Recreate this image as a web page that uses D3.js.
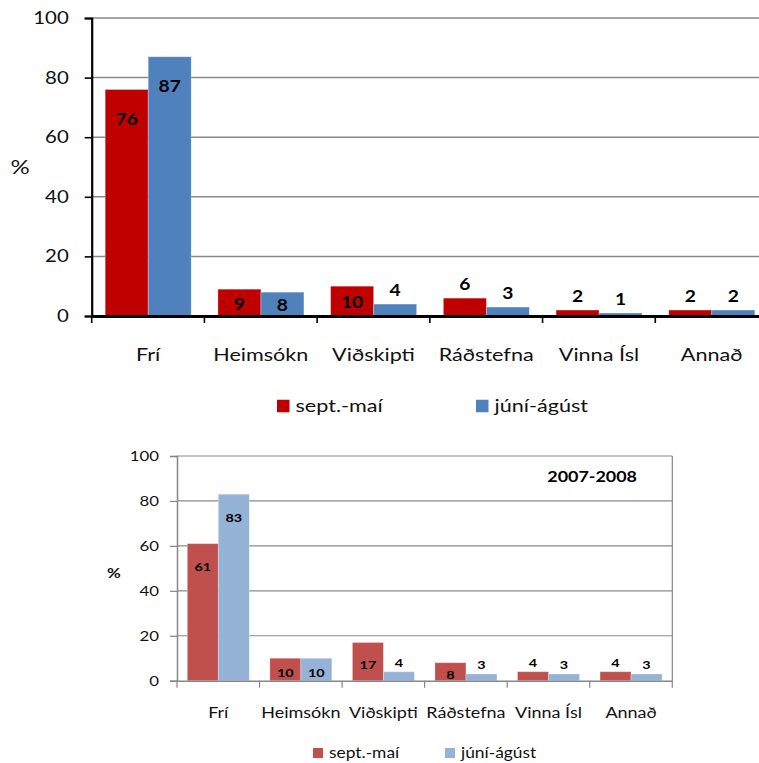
<!DOCTYPE html>
<html><head><meta charset="utf-8">
<script src="https://cdn.jsdelivr.net/npm/d3@7"></script>
<style>
html,body{margin:0;padding:0;background:#fff;}
svg{display:block;font-family:Lato, "Open Sans", sans-serif;}
</style></head>
<body>
<svg id="c" width="759" height="763"></svg>
<script>
const categories = ["Frí","Heimsókn","Viðskipti","Ráðstefna","Vinna Ísl","Annað"];
const seriesNames = ["sept.-maí","júní-ágúst"];
const topSeptMai = [76, 9, 10, 6, 2, 2];
const topJuniAgust = [87, 8, 4, 3, 1, 2];
const bottomSeptMai = [61, 10, 17, 8, 4, 4];
const bottomJuniAgust = [83, 10, 4, 3, 3, 3];
const yTicks = [0, 20, 40, 60, 80, 100];
const bottomTitle = "2007-2008";

const svg = d3.select("#c");
const K = 1.2; // horizontal stretch of the original picture's text
const REG = 400;

function wide(sel, k) {
  sel.each(function () {
    const t = d3.select(this);
    const x = +t.attr("x") || 0;
    t.attr("transform", `translate(${x * (1 - k)},0) scale(${k},1)`);
  });
}

function drawChart(cfg) {
  const g = svg.append("g");
  const y = d3.scaleLinear().domain([0, 100]).range([cfg.y0, cfg.y100]);
  const x0 = d3.scaleBand().domain(categories).range([cfg.xl, cfg.xr]);
  const x1 = d3.scaleBand().domain(seriesNames).range(cfg.inner);
  const data = categories.map((c, i) => ({cat: c, vals: [cfg.s1[i], cfg.s2[i]]}));

  // gridlines
  g.append("g").selectAll("line").data(yTicks.filter(d => d > 0)).join("line")
    .attr("x1", cfg.xl).attr("x2", cfg.gridRight)
    .attr("y1", d => y(d)).attr("y2", d => y(d))
    .attr("stroke", cfg.gridColor).attr("stroke-width", cfg.gridW);

  // bars
  const cg = g.append("g").selectAll("g").data(data).join("g")
    .attr("transform", d => `translate(${x0(d.cat)},0)`);
  cg.selectAll("rect").data(d => d.vals.map((v, j) => ({v, s: seriesNames[j], j}))).join("rect")
    .attr("x", d => x1(d.s)).attr("width", x1.bandwidth())
    .attr("y", d => y(d.v)).attr("height", d => y(0) - y(d.v))
    .attr("fill", d => cfg.colors[d.j])
    .attr("stroke", "rgba(255,255,255,0.35)").attr("stroke-width", 0.8);
  const lbl = cg.selectAll("text").data(d => d.vals.map((v, j) => ({v, s: seriesNames[j], j}))).join("text")
    .attr("x", d => x1(d.s) + x1.bandwidth() / 2)
    .attr("y", d => cfg.labelY(d.v, y))
    .attr("dy", "0.36em")
    .attr("text-anchor", "middle")
    .attr("font-weight", "bold")
    .attr("font-size", cfg.labelSize)
    .attr("fill", "#000")
    .text(d => d.v);
  wide(lbl, cfg.labelK);

  // y axis
  const ya = g.append("g").attr("transform", `translate(${cfg.xl},0)`)
    .call(d3.axisLeft(y).tickValues(yTicks).tickSize(cfg.tickLen).tickPadding(cfg.tickPad));
  ya.select(".domain").attr("stroke", cfg.axisColor).attr("stroke-width", cfg.yAxisW);
  ya.selectAll(".tick line").attr("stroke", cfg.axisColor).attr("stroke-width", cfg.tickW);
  ya.selectAll(".tick text").attr("font-size", cfg.tickSize).attr("font-family", "Lato")
    .attr("font-weight", REG).attr("fill", "#111");
  wide(ya.selectAll(".tick text"), K);

  // x axis
  const xa = g.append("g").attr("transform", `translate(0,${cfg.y0})`)
    .call(d3.axisBottom(x0).tickSize(0).tickPadding(cfg.catPad));
  xa.select(".domain").attr("stroke", cfg.axisColor).attr("stroke-width", cfg.xAxisW);
  xa.selectAll(".tick text").attr("font-size", cfg.catSize).attr("font-family", "Lato")
    .attr("font-weight", REG).attr("fill", "#111");
  wide(xa.selectAll(".tick text"), K);
  // category boundary ticks
  const bounds = categories.map(c => x0(c)).concat([cfg.xr]);
  xa.append("g").selectAll("line").data(bounds).join("line")
    .attr("x1", d => d).attr("x2", d => d).attr("y1", 0).attr("y2", cfg.tickLen)
    .attr("stroke", cfg.axisColor).attr("stroke-width", cfg.tickW);

  if (cfg.border) {
    g.append("line").attr("x1", cfg.xr).attr("x2", cfg.xr).attr("y1", y(100)).attr("y2", y(0))
      .attr("stroke", cfg.axisColor).attr("stroke-width", cfg.gridW);
  }

  // % label
  const pct = g.append("text").attr("x", cfg.pctX).attr("y", cfg.pctY).attr("dy", "0.36em")
    .attr("text-anchor", "middle").attr("font-size", cfg.pctSize).attr("fill", "#111")
    .attr("font-weight", cfg.pctBold ? "bold" : REG).text("%");
  wide(pct, K);

  // legend
  const lg = g.append("g").selectAll("g").data(seriesNames).join("g");
  lg.append("rect").attr("x", (d, i) => cfg.legX[i]).attr("y", cfg.legY - cfg.legSq / 2)
    .attr("width", cfg.legSq).attr("height", cfg.legSq).attr("fill", (d, i) => cfg.colors[i]);
  const lt = lg.append("text").attr("x", (d, i) => cfg.legX[i] + cfg.legSq + cfg.legGap)
    .attr("y", cfg.legY).attr("dy", "0.36em").attr("font-size", cfg.legSize).attr("fill", "#111")
    .attr("font-weight", REG).text(d => d);
  wide(lt, K);
  return g;
}

drawChart({
  s1: topSeptMai, s2: topJuniAgust,
  colors: ["#C00000", "#4F81BD"],
  y0: 316, y100: 18, xl: 91.7, xr: 768, gridRight: 759,
  inner: [13.5, 99.5],
  gridColor: "#898989", gridW: 1.5, axisColor: "#000", yAxisW: 2.2, xAxisW: 3, tickW: 1.6,
  tickLen: 7, tickPad: 16, tickSize: 17, catSize: 18, catPad: 32,
  labelSize: 17.5, labelK: 1.1,
  labelY: (v, y) => v >= 50 ? y(v) + 29 : v >= 7 ? (y(v) + y(0)) / 2 + 1 : y(v) - 14,
  pctX: 20, pctY: 167, pctSize: 20, pctBold: false,
  legX: [277, 476], legY: 406, legSq: 12.5, legGap: 6, legSize: 18,
  border: false
});

const bottom = drawChart({
  s1: bottomSeptMai, s2: bottomJuniAgust,
  colors: ["#C0504D", "#95B3D7"],
  y0: 680.7, y100: 456, xl: 177, xr: 672.3, gridRight: 672.3,
  inner: [10.3, 72.3],
  gridColor: "#8a8a8a", gridW: 1.2, axisColor: "#868686", yAxisW: 1.5, xAxisW: 1.5, tickW: 1.2,
  tickLen: 7, tickPad: 11, tickSize: 14, catSize: 15, catPad: 27,
  labelSize: 12, labelK: 1.2,
  labelY: (v, y) => v >= 50 ? y(v) + 23 : v >= 7 ? (y(v) + y(0)) / 2 + 3 : y(v) - 9,
  pctX: 114, pctY: 573, pctSize: 14, pctBold: true,
  legX: [313, 445], legY: 753, legSq: 10, legGap: 6, legSize: 14.5,
  border: true
});
const tt = bottom.append("text").attr("x", 637).attr("y", 476).attr("dy", "0.36em")
  .attr("text-anchor", "end").attr("font-weight", "bold").attr("font-size", 16).text(bottomTitle);
wide(tt, 1.12);
</script>
</body></html>
